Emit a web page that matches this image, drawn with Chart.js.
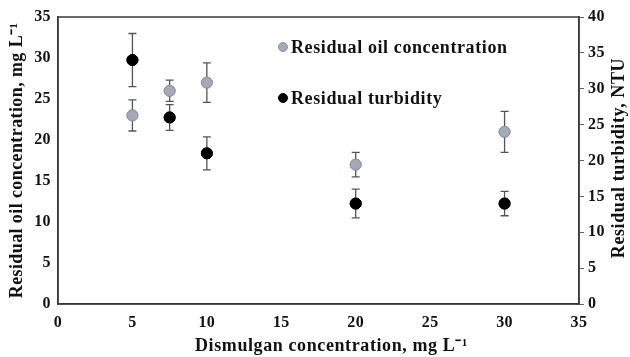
<!DOCTYPE html>
<html>
<head>
<meta charset="utf-8">
<script src="https://cdn.jsdelivr.net/npm/chart.js@4.4.1/dist/chart.umd.min.js"></script>
<style>
  html, body { margin: 0; padding: 0; background: #fff; }
  #wrap { width: 630px; height: 357px; }
</style>
</head>
<body>
<div id="wrap"><canvas id="chart" width="630" height="357"></canvas></div>
<script>
// Dismulgan dose (mg/L)
const doses = [5, 7.5, 10, 20, 30];
// Residual oil concentration (mg/L) and its error
const oilValues = [23, 26, 27, 17, 21];
const oilErrors = [1.9, 1.3, 2.4, 1.5, 2.5];
// Residual turbidity (NTU) and its error
const turbidityValues = [34, 26, 21, 14, 14];
const turbidityErrors = [3.7, 1.8, 2.3, 2.0, 1.7];

const legendLabels = ['Residual oil concentration', 'Residual turbidity'];
const xTitle = 'Dismulgan concentration, mg L⁻¹';
const y2Title = 'Residual turbidity, NTU';

const serif = '"Liberation Serif", "Times New Roman", serif';
const axisColor = '#3a3a3a';

// slightly wider text, like the scanned figure
const spacing = {
    id: 'spacing',
    beforeDraw(chart) { chart.ctx.letterSpacing = '0.4px'; }
};

// error bars drawn through each dataset's own y scale
const errorBars = {
    id: 'errorBars',
    afterDatasetsDraw(chart) {
        const ctx = chart.ctx;
        chart.data.datasets.forEach((ds, i) => {
            const meta = chart.getDatasetMeta(i);
            const yScale = chart.scales[ds.yAxisID];
            ctx.save();
            ctx.strokeStyle = '#555';
            ctx.lineWidth = 1.3;
            meta.data.forEach((pt, j) => {
                const v = ds.data[j].y;
                const e = ds.errors[j];
                const yTop = yScale.getPixelForValue(v + e);
                const yBot = yScale.getPixelForValue(v - e);
                ctx.beginPath();
                ctx.moveTo(pt.x, yTop);
                ctx.lineTo(pt.x, yBot);
                ctx.moveTo(pt.x - 4, yTop);
                ctx.lineTo(pt.x + 4, yTop);
                ctx.moveTo(pt.x - 4, yBot);
                ctx.lineTo(pt.x + 4, yBot);
                ctx.stroke();
            });
            ctx.restore();
        });
        // redraw points on top of the bars
        chart.data.datasets.forEach((ds, i) => {
            chart.getDatasetMeta(i).data.forEach(pt => pt.draw(ctx));
        });
    }
};

// frame, in-plot legend, x title and right axis title
const extras = {
    id: 'extras',
    afterDraw(chart) {
        const ctx = chart.ctx;
        const area = chart.chartArea;
        ctx.save();
        ctx.letterSpacing = '0.6px';
        ctx.strokeStyle = axisColor;
        ctx.lineWidth = 1.5;
        ctx.strokeRect(area.left, area.top, area.right - area.left, area.bottom - area.top);

        // legend
        const lx = area.left + 225;
        const rows = [area.top + 30, area.top + 81];
        ctx.font = 'bold 18px ' + serif;
        chart.data.datasets.forEach((ds, i) => {
            ctx.beginPath();
            ctx.arc(lx, rows[i], 4.5, 0, Math.PI * 2);
            ctx.fillStyle = ds.backgroundColor;
            ctx.fill();
            ctx.lineWidth = 1;
            ctx.strokeStyle = ds.borderColor;
            ctx.stroke();
            ctx.fillStyle = '#111';
            ctx.textBaseline = 'middle';
            ctx.textAlign = 'left';
            ctx.fillText(legendLabels[i], lx + 8, rows[i] + 1);
        });

        // x title, a little right of the plot centre as in the figure
        ctx.textAlign = 'center';
        ctx.textBaseline = 'middle';
        ctx.fillText(xTitle, (area.left + area.right) / 2 + 13, 346);

        // right axis title, reading bottom to top
        ctx.translate(619, 158);
        ctx.rotate(-Math.PI / 2);
        ctx.fillText(y2Title, 0, 0);
        ctx.restore();
    }
};

const tickFont = { family: serif, size: 16, weight: 'bold' };
const titleFont = { family: serif, size: 18, weight: 'bold' };

new Chart(document.getElementById('chart'), {
    type: 'scatter',
    data: {
        datasets: [{
            label: legendLabels[0],
            data: doses.map((d, i) => ({ x: d, y: oilValues[i] })),
            errors: oilErrors,
            yAxisID: 'y',
            backgroundColor: '#a4a9b6',
            borderColor: '#8792ab',
            borderWidth: 1,
            pointRadius: 5.5
        }, {
            label: legendLabels[1],
            data: doses.map((d, i) => ({ x: d, y: turbidityValues[i] })),
            errors: turbidityErrors,
            yAxisID: 'y2',
            backgroundColor: '#000',
            borderColor: '#000',
            borderWidth: 1,
            pointRadius: 5.5
        }]
    },
    options: {
        responsive: false,
        animation: false,
        layout: { padding: { top: 17, left: 0, right: 0, bottom: 0 } },
        plugins: {
            legend: { display: false },
            tooltip: { enabled: false }
        },
        scales: {
            x: {
                type: 'linear',
                min: 0,
                max: 35,
                ticks: { stepSize: 5, font: tickFont, color: '#111', padding: 9 },
                grid: { display: false, drawTicks: false },
                border: { display: true, color: axisColor, width: 1.5 },
                afterFit(scale) { scale.height = 53; }
            },
            y: {
                position: 'left',
                min: 0,
                max: 35,
                ticks: { stepSize: 5, font: tickFont, color: '#111', padding: 7 },
                grid: { display: false, drawTicks: false },
                border: { display: true, color: axisColor, width: 1.5 },
                title: { display: true, text: 'Residual oil concentration, mg L⁻¹', font: titleFont, color: '#111', padding: { top: 7, bottom: 7 } },
                afterFit(scale) { scale.width = 58; }
            },
            y2: {
                position: 'right',
                min: 0,
                max: 40,
                ticks: { stepSize: 5, font: tickFont, color: '#111', padding: 4 },
                grid: { display: true, drawOnChartArea: false, drawTicks: true, tickLength: 5, color: '#666' },
                border: { display: true, color: axisColor, width: 1.5 },
                afterFit(scale) { scale.width = 51; }
            }
        }
    },
    plugins: [spacing, errorBars, extras]
});
</script>
</body>
</html>
